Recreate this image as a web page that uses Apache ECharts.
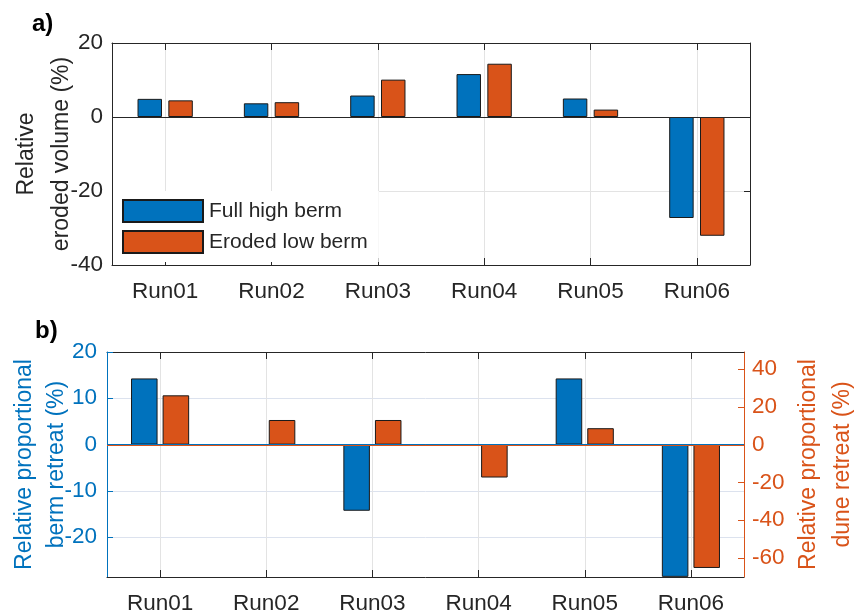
<!DOCTYPE html>
<html>
<head>
<meta charset="utf-8">
<script src="https://cdn.jsdelivr.net/npm/echarts@6/dist/echarts.min.js"></script>
<style>
  html, body { margin: 0; padding: 0; background: #fff; }
  #chart { width: 858px; height: 615px; }
</style>
</head>
<body>
<div id="chart"></div>
<script>
// Run labels shared by both panels
const runs = ['Run01', 'Run02', 'Run03', 'Run04', 'Run05', 'Run06'];

// Panel a: relative eroded volume (%)
const volumeFullHigh = [4.9, 3.7, 5.8, 11.6, 5.0, -27.3];
const volumeErodedLow = [4.5, 4.0, 10.1, 14.4, 2.0, -32.1];
const volumeTicks = [-40, -20, 0, 20];

// Panel b: relative proportional retreat (%)
const bermRetreat = [14.29, 0, -14.29, 0, 14.29, -28.57];
const duneRetreat = [26.09, 13.04, 13.04, -17.39, 8.70, -65.22];
const bermTicks = [-20, -10, 0, 10, 20];
const duneTicks = [-60, -40, -20, 0, 20, 40];

const BLUE = '#0072BD';
const ORANGE = '#D95319';
const INK = '#262626';
const GRID = '#e3e3e3';
const FONT = '"Liberation Sans", Arial, Helvetica, sans-serif';
const TICK_FONT = 22.5;
const TITLE_FONT = 23;

const chart = echarts.init(document.getElementById('chart'), null, { renderer: 'canvas' });

function catAxis(gridIndex, position, showLabels, showSplit) {
  return {
    type: 'category',
    gridIndex: gridIndex,
    position: position,
    data: runs,
    boundaryGap: true,
    axisLine: { show: true, onZero: false, lineStyle: { color: INK, width: 1 } },
    axisTick: { show: true, inside: true, alignWithLabel: true, length: 7, lineStyle: { color: INK } },
    axisLabel: { show: showLabels, color: INK, fontSize: TICK_FONT, fontFamily: FONT, margin: 15 },
    splitLine: { show: showSplit, alignWithLabel: true, lineStyle: { color: GRID, width: 1 } }
  };
}

const option = {
  animation: false,
  backgroundColor: '#fff',
  textStyle: { fontFamily: FONT },
  graphic: [
    { type: 'text', left: 32, top: 12, style: { text: 'a)', font: 'bold 24px ' + FONT, fill: '#000' } },
    { type: 'text', left: 35, top: 319, style: { text: 'b)', font: 'bold 24px ' + FONT, fill: '#000' } }
  ],
  grid: [
    { left: 112, top: 43, width: 638, height: 222, containLabel: false, outerBoundsMode: 'none' },
    { left: 107, top: 352, width: 637, height: 225, containLabel: false, outerBoundsMode: 'none' }
  ],
  legend: {
    data: ['Full high berm', 'Eroded low berm'],
    orient: 'vertical',
    left: 113,
    top: 191,
    padding: [8, 11, 8, 9],
    backgroundColor: '#fff',
    icon: 'rect',
    itemWidth: 80,
    itemHeight: 22,
    itemGap: 7,
    selectedMode: false,
    textStyle: { color: INK, fontSize: 21, fontFamily: FONT, lineHeight: 22, padding: [0, 0, 0, 1] }
  },
  xAxis: [
    catAxis(0, 'bottom', true, true),
    catAxis(0, 'top', false, false),
    catAxis(1, 'bottom', true, true),
    catAxis(1, 'top', false, false)
  ],
  yAxis: [
    {
      type: 'value', gridIndex: 0, position: 'left',
      min: -40, max: 20, interval: 20,
      name: 'Relative\neroded volume (%)',
      nameLocation: 'middle', nameRotate: 90, nameGap: 33, nameMoveOverlap: false,
      nameTextStyle: { color: INK, fontSize: TITLE_FONT, fontFamily: FONT, lineHeight: 35 },
      axisLine: { show: true, onZero: false, lineStyle: { color: INK } },
      axisTick: { show: true, inside: true, length: 6, lineStyle: { color: INK } },
      axisLabel: { color: INK, fontSize: TICK_FONT, fontFamily: FONT, margin: 9 },
      splitLine: { show: true, lineStyle: { color: GRID } }
    },
    {
      type: 'value', gridIndex: 0, position: 'right',
      min: -40, max: 20, interval: 20,
      axisLine: { show: true, onZero: false, lineStyle: { color: INK } },
      axisTick: { show: true, inside: true, length: 6, lineStyle: { color: INK } },
      axisLabel: { show: false },
      splitLine: { show: false }
    },
    {
      type: 'value', gridIndex: 1, position: 'left',
      min: -28.6, max: 20,
      name: 'Relative proportional\nberm retreat (%)',
      nameLocation: 'middle', nameRotate: 90, nameGap: 34, nameMoveOverlap: false,
      nameTextStyle: { color: BLUE, fontSize: TITLE_FONT, fontFamily: FONT, lineHeight: 32 },
      axisLine: { show: true, onZero: false, lineStyle: { color: BLUE } },
      axisTick: { show: true, inside: true, length: 6, customValues: bermTicks, lineStyle: { color: BLUE } },
      axisLabel: { color: BLUE, fontSize: TICK_FONT, fontFamily: FONT, margin: 10, customValues: bermTicks },
      splitLine: { show: true, lineStyle: { color: '#dce2ee' } }
    },
    {
      type: 'value', gridIndex: 1, position: 'right',
      min: -70, max: 49,
      name: 'Relative proportional\ndune retreat (%)',
      nameLocation: 'middle', nameRotate: 90, nameGap: 48, nameMoveOverlap: false,
      nameTextStyle: { color: ORANGE, fontSize: TITLE_FONT, fontFamily: FONT, lineHeight: 34 },
      axisLine: { show: true, onZero: false, lineStyle: { color: ORANGE } },
      axisTick: { show: true, inside: true, length: 6, customValues: duneTicks, lineStyle: { color: ORANGE } },
      axisLabel: { color: ORANGE, fontSize: TICK_FONT, fontFamily: FONT, margin: 8, customValues: duneTicks },
      splitLine: { show: false }
    }
  ],
  series: [
    {
      name: 'Full high berm', type: 'bar', xAxisIndex: 0, yAxisIndex: 0,
      data: volumeFullHigh, barWidth: '23%', barGap: '26%',
      itemStyle: { color: BLUE, borderColor: '#1a1a1a', borderWidth: 1 },
      markLine: {
        silent: true, symbol: 'none', label: { show: false },
        lineStyle: { color: INK, width: 1, type: 'solid' },
        data: [{ yAxis: 0 }]
      }
    },
    {
      name: 'Eroded low berm', type: 'bar', xAxisIndex: 0, yAxisIndex: 0,
      data: volumeErodedLow, barWidth: '23%', barGap: '26%',
      itemStyle: { color: ORANGE, borderColor: '#1a1a1a', borderWidth: 1 }
    },
    {
      name: 'Berm retreat', type: 'bar', xAxisIndex: 2, yAxisIndex: 2,
      data: bermRetreat, barWidth: '25%', barGap: '19%', z: 3,
      itemStyle: { color: BLUE, borderColor: '#1a1a1a', borderWidth: 1 },
      markLine: {
        silent: true, symbol: 'none', label: { show: false }, z: 7,
        lineStyle: { color: BLUE, width: 1, type: 'solid' },
        data: [{ yAxis: 0 }]
      }
    },
    {
      name: 'Dune retreat', type: 'bar', xAxisIndex: 2, yAxisIndex: 3,
      data: duneRetreat, barWidth: '25%', barGap: '19%', z: 2,
      itemStyle: { color: ORANGE, borderColor: '#1a1a1a', borderWidth: 1 },
      markLine: {
        silent: true, symbol: 'none', label: { show: false }, z: 6,
        lineStyle: { color: ORANGE, width: 2, type: 'solid' },
        data: [{ yAxis: 0 }]
      }
    }
  ]
};

chart.setOption(option);
</script>
</body>
</html>
